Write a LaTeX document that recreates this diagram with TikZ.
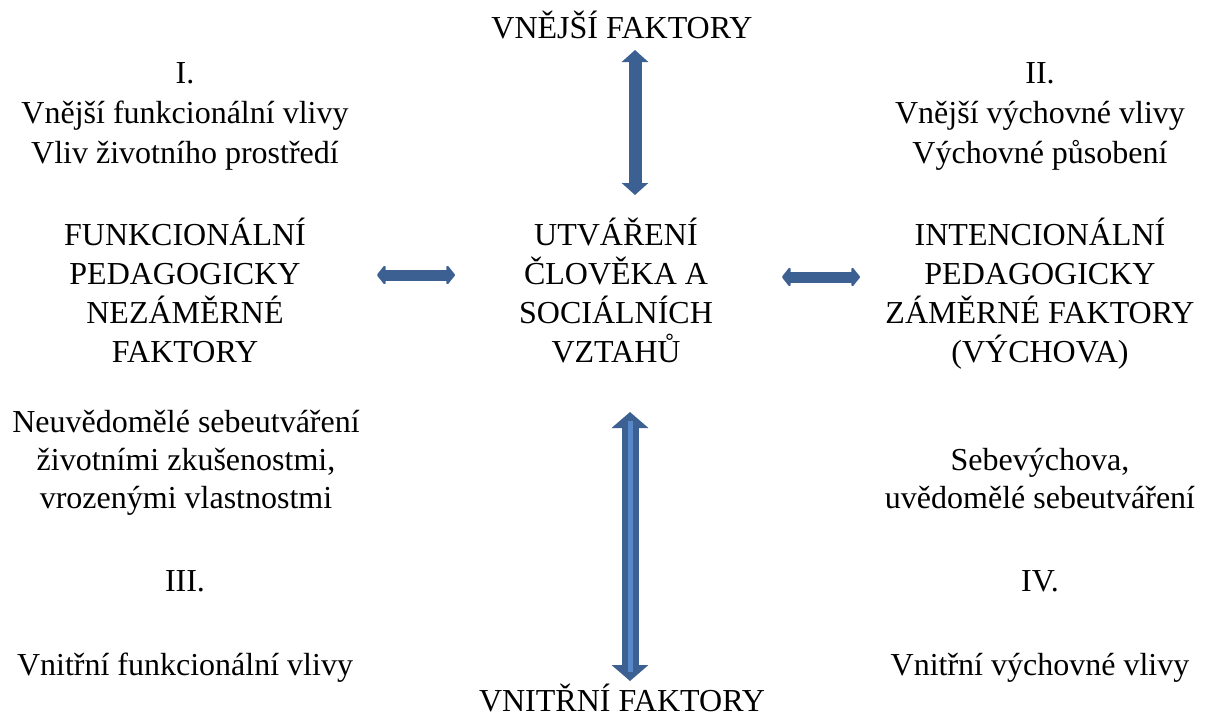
\documentclass[tikz,border=0pt]{standalone}
\usepackage{fontspec}
\setmainfont{Liberation Serif}
\usetikzlibrary{arrows.meta}
\definecolor{arrowblue}{RGB}{60,96,145}
\definecolor{stripeblue}{RGB}{88,136,200}
\tikzset{
  txt/.style={font=\fontsize{32}{39}\selectfont, align=center, inner sep=0pt, anchor=base},
  bigarrow/.style={draw=arrowblue, line width=17pt, {Triangle[length=16pt,width=36pt]}-{Triangle[length=16pt,width=36pt]}},
  toparrow/.style={draw=arrowblue, line width=13pt, {Triangle[length=12pt,width=26pt]}-{Triangle[length=12pt,width=26pt]}},
  sidearrow/.style={draw=arrowblue, line width=11pt, {Triangle[round,length=9pt,width=22pt]}-{Triangle[round,length=9pt,width=22pt]}},
  stripe/.style={draw=stripeblue, line width=5pt}
}
\begin{document}
\begin{tikzpicture}[x=1pt,y=-1pt]
\useasboundingbox (0,0) rectangle (1208,720);
% labels
\node[txt] (vf) at (622,38) {VNĚJŠÍ FAKTORY};
\node[txt] (vn) at (622,711) {VNITŘNÍ FAKTORY};
\node[txt] (q1) at (185,83) {I.};
\node[txt] (q1a) at (185,123) {Vnější funkcionální vlivy};
\node[txt] (q1b) at (185,163) {Vliv životního prostředí};
\node[txt] (q2) at (1040,83) {II.};
\node[txt] (q2a) at (1040,123) {Vnější výchovné vlivy};
\node[txt] (q2b) at (1040,163) {Výchovné působení};
\node[txt] (lb) at (185,362) {FUNKCIONÁLNÍ\\PEDAGOGICKY\\NEZÁMĚRNÉ\\FAKTORY};
\node[txt] (c) at (616,362) {UTVÁŘENÍ\\ČLOVĚKA A\\SOCIÁLNÍCH\\VZTAHŮ};
\node[txt] (rb) at (1040,362) {INTENCIONÁLNÍ\\PEDAGOGICKY\\ZÁMĚRNÉ FAKTORY\\(VÝCHOVA)};
\node[txt, font=\fontsize{32}{38}\selectfont] (ln) at (186,508) {Neuvědomělé sebeutváření\\životními zkušenostmi,\\vrozenými vlastnostmi};
\node[txt, font=\fontsize{32}{38}\selectfont] (rn) at (1040,508) {Sebevýchova,\\uvědomělé sebeutváření};
\node[txt] (q3) at (185,591) {III.};
\node[txt] (q4) at (1040,591) {IV.};
\node[txt] (q3a) at (185,675) {Vnitřní funkcionální vlivy};
\node[txt] (q4a) at (1040,675) {Vnitřní výchovné vlivy};
% arrow end points
\coordinate (ta) at (635,50);
\coordinate (tb) at (635,195);
\coordinate (ba) at (630,412);
\coordinate (bb) at (630,681);
\coordinate (la) at (377,275);
\coordinate (lc) at (455,275);
\coordinate (ra) at (782,277);
\coordinate (rc) at (860,277);
\coordinate (sa) at (630,421);
\coordinate (sb) at (630,672);
% arrows
\draw[toparrow] (ta) -- (tb);
\draw[bigarrow] (ba) -- (bb);
\draw[stripe] (sa) -- (sb);
\draw[sidearrow] (la) -- (lc);
\draw[sidearrow] (ra) -- (rc);
\end{tikzpicture}
\end{document}
